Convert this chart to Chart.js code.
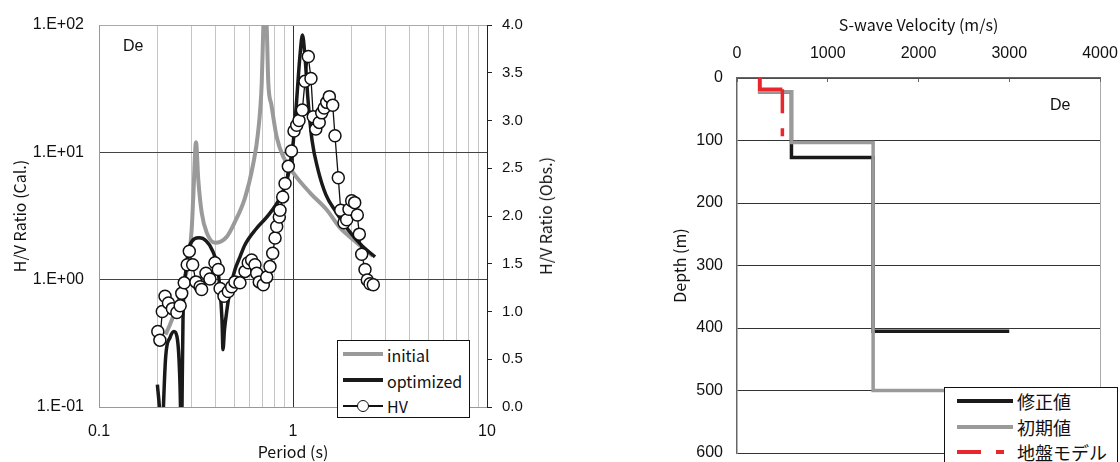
<!DOCTYPE html>
<html lang="ja">
<head>
<meta charset="utf-8">
<title>H/V ratio and S-wave velocity (De)</title>
<script src="https://cdn.jsdelivr.net/npm/chart.js@4.4.1/dist/chart.umd.min.js"></script>
<style>
  body { margin: 0; width: 1120px; height: 462px; overflow: hidden; background: #fff; position: relative;
         font-family: "Noto Sans CJK JP", "Noto Sans", sans-serif; color: #111; }
  .box { position: absolute; top: 0; height: 462px; }
  .note { position: absolute; font: 16px "Liberation Sans", Arial, sans-serif; line-height: 16px; }
  .vtitle { position: absolute; font-size: 16px; white-space: nowrap; transform: translate(-50%, -50%) rotate(-90deg); }
  .legend { position: absolute; background: #fff; border: 1px solid #111; box-sizing: border-box; }
  .legend span { position: absolute; }
  .legend .txt { white-space: nowrap; }
</style>
</head>
<body>

<div class="box" style="left:0;width:560px"><canvas id="hvChart"></canvas></div>
<div class="box" style="left:660px;width:460px"><canvas id="vsChart"></canvas></div>

<div class="note" style="left:123px;top:38px">De</div>
<div class="note" style="left:1050px;top:97px">De</div>
<div class="vtitle" style="left:545px;top:216px">H/V Ratio (Obs.)</div>

<div class="legend" style="left:337px;top:340px;width:133px;height:78px">
  <span style="left:5px;top:11px;width:40px;height:4px;background:#9a9a9a"></span>
  <span class="txt" style="left:49px;top:4px;font-size:16px;line-height:20px">initial</span>
  <span style="left:5px;top:37px;width:40px;height:4px;background:#1a1a1a"></span>
  <span class="txt" style="left:49px;top:30px;font-size:16px;line-height:20px">optimized</span>
  <span style="left:5px;top:64px;width:40px;height:1.5px;background:#111"></span>
  <span style="left:19px;top:59px;width:12px;height:12px;box-sizing:border-box;border:1.5px solid #111;border-radius:50%;background:#fff"></span>
  <span class="txt" style="left:49px;top:55px;font-size:16px;line-height:20px">HV</span>
</div>

<div class="legend" style="left:944px;top:387px;width:174px;height:82px">
  <span style="left:12px;top:11px;width:56px;height:4px;background:#1a1a1a"></span>
  <span class="txt" style="left:72px;top:2px;font-size:18px;line-height:22px">修正値</span>
  <span style="left:12px;top:37px;width:56px;height:4px;background:#9a9a9a"></span>
  <span class="txt" style="left:72px;top:28px;font-size:18px;line-height:22px">初期値</span>
  <span style="left:12px;top:62px;width:24px;height:3.5px;background:#e8262b"></span>
  <span style="left:51px;top:62px;width:8px;height:3.5px;background:#e8262b"></span>
  <span class="txt" style="left:72px;top:53px;font-size:18px;line-height:22px">地盤モデル</span>
</div>

<script>
'use strict';

// Observed H/V (right axis)
const hvPeriod = [0.201, 0.206, 0.212, 0.219, 0.228, 0.239, 0.252, 0.262, 0.267, 0.275, 0.285, 0.292, 0.304, 0.316,
  0.332, 0.338, 0.356, 0.373, 0.396, 0.412, 0.421, 0.441, 0.464, 0.483, 0.502, 0.533, 0.566, 0.588, 0.612, 0.637,
  0.650, 0.670, 0.703, 0.732, 0.761, 0.786, 0.808, 0.824, 0.850, 0.857, 0.885, 0.910, 0.946, 0.982, 1.012, 1.045,
  1.074, 1.117, 1.153, 1.199, 1.238, 1.272, 1.311, 1.365, 1.406, 1.448, 1.492, 1.539, 1.602, 1.646, 1.712, 1.762,
  1.832, 1.891, 1.944, 2.007, 2.080, 2.145, 2.197, 2.260, 2.350, 2.415, 2.494, 2.594];
const hvRatio = [0.79, 0.70, 1.00, 1.16, 1.09, 1.03, 0.99, 1.06, 1.19, 1.30, 1.49, 1.63, 1.49, 1.31,
  1.26, 1.23, 1.40, 1.34, 1.51, 1.44, 1.24, 1.16, 1.21, 1.26, 1.31, 1.30, 1.42, 1.51, 1.54, 1.49,
  1.40, 1.31, 1.28, 1.36, 1.47, 1.61, 1.77, 1.89, 1.99, 2.06, 2.20, 2.34, 2.52, 2.68, 2.89, 2.95,
  3.00, 3.11, 3.41, 3.67, 3.44, 3.04, 2.91, 2.98, 3.08, 3.13, 3.19, 3.25, 3.16, 2.84, 2.40, 2.06,
  1.93, 1.96, 2.07, 2.16, 2.14, 2.01, 1.81, 1.60, 1.44, 1.33, 1.29, 1.28];

// Calculated H/V, optimized model (left axis)
const optPeriod = [0.200, 0.2063, 0.210, 0.2138, 0.2207, 0.2323, 0.2435, 0.2523, 0.2585, 0.2631, 0.2656, 0.2678,
  0.2710, 0.2809, 0.2944, 0.328, 0.356, 0.3824, 0.4058, 0.4205, 0.4305, 0.4357, 0.4435, 0.4568, 0.4734, 0.5023,
  0.533, 0.5656, 0.6445, 0.743, 0.857, 0.931, 0.988, 1.024, 1.049, 1.087, 1.119, 1.153, 1.195, 1.253, 1.346,
  1.479, 1.665, 1.921, 2.268, 2.647];
const optRatio = [0.150, 0.08, 0.03, 0.08, 0.249, 0.351, 0.391, 0.357, 0.236, 0.1, 0.03, 0.1,
  0.485, 1.20, 1.88, 2.13, 2.02, 1.72, 1.31, 0.835, 0.485, 0.282, 0.405, 0.582, 0.835, 1.20,
  1.51, 1.88, 2.5, 3.18, 4.39, 6.08, 9.56, 17.3, 28.2, 58.2, 83.5, 56.1, 25.8, 12.5, 7.29,
  4.64, 3.41, 2.47, 1.85, 1.51];

// Calculated H/V, initial model (left axis)
const initPeriod = [0.220, 0.2323, 0.2515, 0.272, 0.2886, 0.3004, 0.3062, 0.3162, 0.325, 0.3384, 0.3591, 0.3963,
  0.4553, 0.5023, 0.5656, 0.6222, 0.660, 0.690, 0.703, 0.713, 0.732, 0.746, 0.774, 0.824, 0.891, 1.003,
  1.224, 1.492, 1.746, 2.046, 2.350, 2.584];
const initRatio = [0.37, 0.444, 0.614, 0.930, 1.36, 2.47, 4.48, 12.0, 6.08, 3.35, 2.34, 1.95,
  2.17, 2.85, 4.39, 7.98, 14.2, 35.1, 96, 150, 96, 35.1, 23.6, 13.2, 9.22, 6.90,
  4.81, 3.54, 2.56, 2.06, 1.72, 1.54];

// Tick labels
const periodTicks = [0.1, 1, 10];
const periodTickLabels = ['0.1', '1', '10'];
const calTicks = [0.1, 1, 10, 100];
const calTickLabels = ['1.E-01', '1.E+00', '1.E+01', '1.E+02'];

// S-wave velocity profiles (m/s, m)
const vsFixed = [250, 250, 600, 600, 1500, 1500, 3000];
const depthFixed = [0, 22, 22, 127, 127, 405, 405];
const vsInit = [250, 250, 600, 600, 1500, 1500, 4000];
const depthInit = [0, 22, 22, 103, 103, 500, 500];
const vsModel = [250, 250, 500, 500];
const depthModel = [0, 18, 18, 93];

// minor grid lines of the period axis (1..9 per decade)
const periodGrid = [];
[0.1, 1].forEach(d => {
  for (let m = 1; m <= 9; m++) periodGrid.push(+(d * m).toPrecision(3));
});
periodGrid.push(10);

const tickFont = { family: '"Liberation Sans", Arial, sans-serif', size: 16 };
const titleFont = { family: '"Noto Sans CJK JP", sans-serif', size: 16 };

function toPoints(xs, ys) {
  return xs.map((x, i) => ({ x: x, y: ys[i] }));
}

// fixed axis box so the plot area lands where it should
function fixSize(size) {
  return scale => {
    scale.paddingLeft = scale.paddingRight = scale.paddingTop = scale.paddingBottom = 0;
    if (scale.isHorizontal()) scale.height = size;
    else scale.width = size;
  };
}

// H/V chart
new Chart(document.getElementById('hvChart'), {
  type: 'line',
  data: {
    datasets: [{
      label: 'HV',
      data: toPoints(hvPeriod, hvRatio),
      yAxisID: 'y2',
      borderColor: '#111',
      borderWidth: 1.3,
      pointRadius: 6,
      pointBorderWidth: 1.5,
      pointBackgroundColor: '#fff',
      pointBorderColor: '#111',
      tension: 0
    }, {
      label: 'optimized',
      data: toPoints(optPeriod, optRatio),
      yAxisID: 'y',
      borderColor: '#1a1a1a',
      borderWidth: 3.5,
      pointRadius: 0,
      cubicInterpolationMode: 'monotone',
      clip: 0
    }, {
      label: 'initial',
      data: toPoints(initPeriod, initRatio),
      yAxisID: 'y',
      borderColor: '#9a9a9a',
      borderWidth: 4,
      pointRadius: 0,
      cubicInterpolationMode: 'monotone',
      clip: 0
    }]
  },
  options: {
    responsive: true,
    maintainAspectRatio: false,
    animation: false,
    layout: { padding: { top: 25, left: 0, right: 0, bottom: 0 } },
    plugins: {
      legend: { display: false },
      tooltip: { enabled: false }
    },
    scales: {
      x: {
        type: 'logarithmic',
        min: 0.1,
        max: 10,
        afterBuildTicks: s => { s.ticks = periodGrid.map(v => ({ value: v })); },
        afterFit: fixSize(55),
        ticks: {
          autoSkip: false,
          maxRotation: 0,
          padding: 15,
          font: tickFont,
          color: '#111',
          callback: v => {
            const i = periodTicks.indexOf(v);
            return i >= 0 ? periodTickLabels[i] : '';
          }
        },
        grid: {
          drawTicks: false,
          color: c => (c.tick && c.tick.value === 1 ? '#333' : '#c4c4c4')
        },
        border: { color: '#999' },
        title: { display: true, text: 'Period (s)', font: titleFont, color: '#111', padding: { top: 0, bottom: 0 } }
      },
      y: {
        type: 'logarithmic',
        position: 'left',
        min: 0.1,
        max: 100,
        afterBuildTicks: s => { s.ticks = calTicks.map(v => ({ value: v })); },
        afterFit: fixSize(99),
        ticks: {
          autoSkip: false,
          padding: 15,
          font: tickFont,
          color: '#111',
          callback: v => calTickLabels[calTicks.indexOf(v)]
        },
        grid: {
          drawTicks: false,
          color: c => (c.tick && (c.tick.value === 1 || c.tick.value === 10) ? '#444' : '#aaa')
        },
        border: { color: '#999' },
        title: { display: true, text: 'H/V Ratio (Cal.)', font: titleFont, color: '#111', padding: { top: 10 } }
      },
      y2: {
        type: 'linear',
        position: 'right',
        min: 0,
        max: 4,
        afterFit: fixSize(73),
        ticks: {
          stepSize: 0.5,
          padding: 10,
          font: { family: tickFont.family, size: 15 },
          color: '#111',
          callback: v => v.toFixed(1)
        },
        grid: { drawOnChartArea: false, tickLength: 5, color: '#222' },
        border: { color: '#222' }
      }
    }
  }
});

// Vs profile chart
const modelLine = toPoints(vsModel, depthModel);

new Chart(document.getElementById('vsChart'), {
  type: 'line',
  data: {
    datasets: [{
      label: '地盤モデル',
      data: modelLine.slice(0, 3),
      borderColor: '#e8262b',
      borderWidth: 3.5,
      pointRadius: 0
    }, {
      label: '地盤モデル (dashed)',
      data: modelLine.slice(2),
      borderColor: '#e8262b',
      borderWidth: 3.5,
      borderDash: [24, 15],
      pointRadius: 0
    }, {
      label: '初期値',
      data: toPoints(vsInit, depthInit),
      borderColor: '#9a9a9a',
      borderWidth: 3.5,
      pointRadius: 0
    }, {
      label: '修正値',
      data: toPoints(vsFixed, depthFixed),
      borderColor: '#1a1a1a',
      borderWidth: 3.5,
      pointRadius: 0
    }]
  },
  options: {
    responsive: true,
    maintainAspectRatio: false,
    animation: false,
    layout: { padding: { top: 0, left: 0, right: 20, bottom: 9 } },
    plugins: {
      legend: { display: false },
      tooltip: { enabled: false }
    },
    scales: {
      x: {
        type: 'linear',
        position: 'top',
        min: 0,
        max: 4000,
        afterFit: fixSize(78),
        ticks: { stepSize: 1000, padding: 19, font: tickFont, color: '#111', maxRotation: 0, callback: v => String(v) },
        grid: {
          drawTicks: true,
          tickLength: -4,
          tickColor: '#666',
          color: c => (c.tick && c.tick.value === 4000 ? '#aaa' : 'rgba(0,0,0,0)')
        },
        border: { color: '#666', width: 1.5 },
        title: { display: true, text: 'S-wave Velocity (m/s)', font: titleFont, color: '#111', padding: { top: 15, bottom: 0 } }
      },
      y: {
        type: 'linear',
        reverse: true,
        min: 0,
        max: 600,
        afterFit: fixSize(77),
        ticks: { stepSize: 100, padding: 14, font: tickFont, color: '#111' },
        grid: { drawTicks: false, color: '#333' },
        border: { color: '#666', width: 1.5 },
        title: { display: true, text: 'Depth (m)', font: titleFont, color: '#111', padding: { top: 10 } }
      }
    }
  }
});
</script>
</body>
</html>
